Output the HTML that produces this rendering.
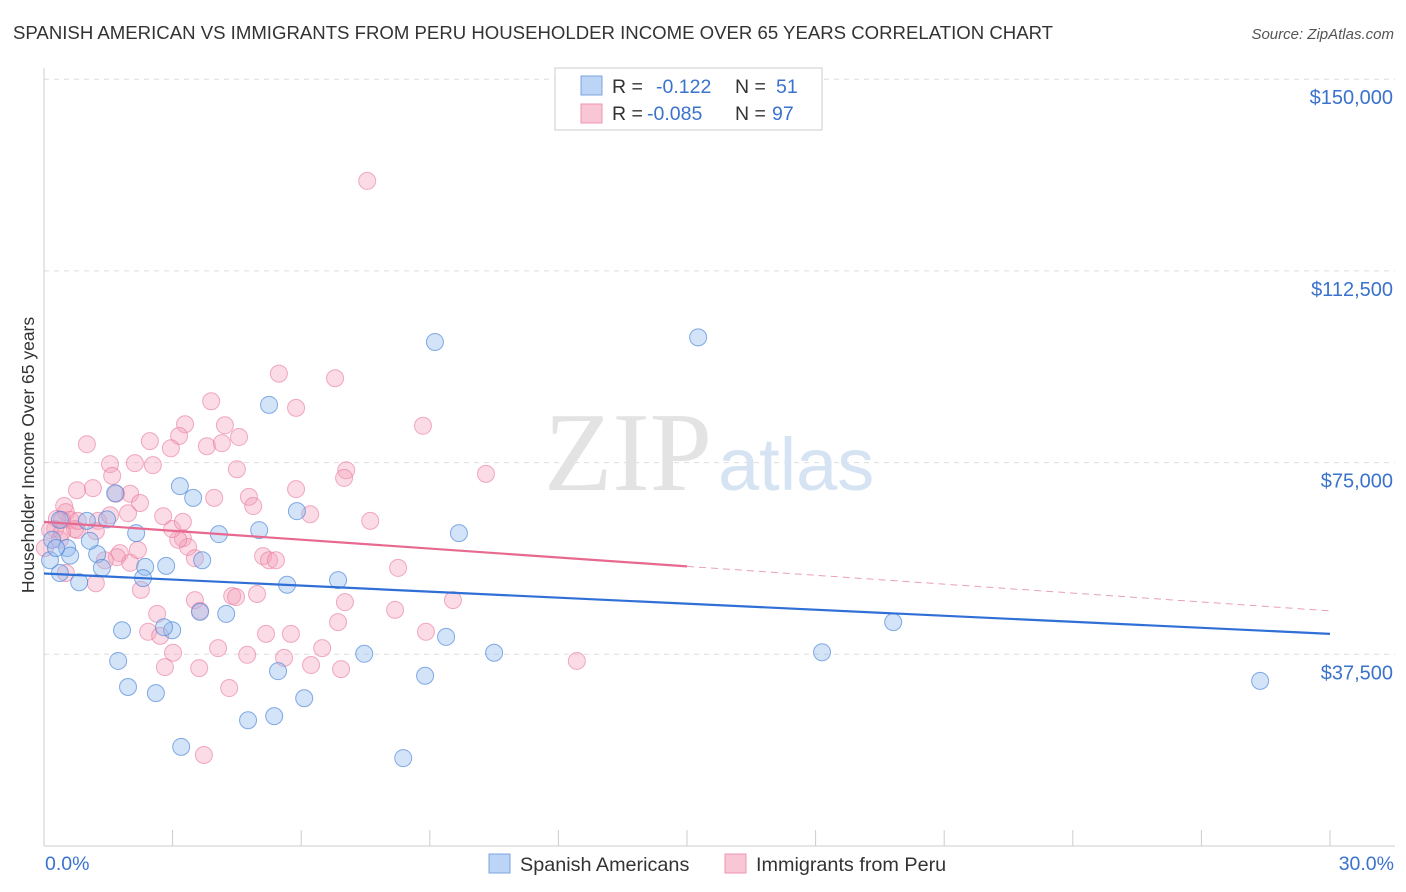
<!DOCTYPE html>
<html><head><meta charset="utf-8"><style>
body{margin:0;background:#fff;font-family:"Liberation Sans",sans-serif;}
svg{display:block}
</style></head><body>
<svg id="chart" width="1406" height="892">
<text x="13" y="39" font-size="18.6" fill="#333">SPANISH AMERICAN VS IMMIGRANTS FROM PERU HOUSEHOLDER INCOME OVER 65 YEARS CORRELATION CHART</text>
<text x="1394" y="39" font-size="15" fill="#555" font-style="italic" text-anchor="end">Source: ZipAtlas.com</text>
<g id="grid"></g>
<text x="712" y="490" font-size="112" fill="#e3e3e3" font-family="Liberation Serif,serif" text-anchor="end">ZIP</text>
<text x="718" y="490" font-size="74" fill="#d5e3f3">atlas</text>
<text transform="translate(34,455) rotate(-90)" font-size="17.5" fill="#333" text-anchor="middle">Householder Income Over 65 years</text>
<g id="pts"></g>
<g id="lines"></g>
<rect x="555" y="68" width="267" height="62" fill="#fff" stroke="#ccc"/>
<rect x="581" y="76" width="21" height="19" fill="#bcd4f5" stroke="#7aa5e0"/>
<rect x="581" y="104" width="21" height="19" fill="#f9c6d5" stroke="#ee94b0"/>
<text x="612" y="93" font-size="19.5" fill="#333">R = <tspan x="656" fill="#3a72cc">-0.122</tspan><tspan x="735">N = </tspan><tspan x="776" fill="#3a72cc">51</tspan></text>
<text x="612" y="120" font-size="19.5" fill="#333">R = <tspan x="647" fill="#3a72cc">-0.085</tspan><tspan x="735">N = </tspan><tspan x="772" fill="#3a72cc">97</tspan></text>
<rect x="489" y="854" width="21" height="19" fill="#bcd4f5" stroke="#7aa5e0"/>
<text x="520" y="871" font-size="19.8" fill="#333">Spanish Americans</text>
<rect x="725" y="854" width="21" height="19" fill="#f9c6d5" stroke="#ee94b0"/>
<text x="756" y="871" font-size="19.8" fill="#333">Immigrants from Peru</text>
</svg>
<script>
const yTicks=[37500,75000,112500,150000];
const yTickLabels=["$37,500","$75,000","$112,500","$150,000"];
const xTickLabels=["0.0%","30.0%"];
const blueX=[9.12,15.26,5.25,3.17,3.48,5.90,9.68,5.02,4.08,2.15,1.47,1.66,1.00,0.37,0.19,0.54,0.61,1.24,1.07,0.37,0.82,1.35,2.36,2.85,2.31,2.99,2.80,3.64,4.25,3.69,5.67,6.86,7.47,9.38,10.50,18.15,19.81,28.37,1.82,1.73,1.96,2.61,5.46,6.07,4.76,5.37,8.89,3.20,8.38,0.14,0.28];
const blueY=[98.6,99.5,86.3,70.4,68.1,65.5,61.2,61.8,61.0,61.2,63.9,69.0,63.6,63.8,59.9,58.3,56.8,57.1,59.7,53.4,51.6,54.4,54.6,54.8,52.4,42.2,42.8,45.8,45.4,55.9,51.1,52.0,37.6,40.9,37.8,37.9,43.8,32.3,42.2,36.2,31.1,29.9,34.2,28.9,24.6,25.4,33.3,19.4,17.2,55.9,58.3];
const pinkX=[7.54,5.48,6.79,5.88,8.84,3.90,3.29,4.22,3.15,2.47,1.00,4.55,3.80,4.15,2.96,10.31,7.05,7.00,4.50,2.54,2.12,1.54,1.59,1.14,0.77,0.47,0.51,2.01,2.24,1.68,1.96,1.26,2.78,3.24,3.36,3.52,4.78,4.88,5.88,6.21,3.97,7.61,3.13,2.99,1.77,1.70,1.42,1.21,0.61,0.30,0.26,0.14,0.37,0.77,2.26,2.64,2.43,2.71,3.52,3.64,4.39,4.48,4.97,5.11,5.25,5.41,5.18,5.76,6.49,6.86,7.02,8.19,8.26,8.91,9.54,12.43,3.01,2.82,3.62,4.06,4.74,5.60,6.23,6.93,4.32,3.73,2.01,2.19,1.21,0.72,0.42,0.02,0.51,0.79,0.42,3.24,1.54];
const pinkY=[130.1,92.4,91.5,85.7,82.2,87.0,82.5,82.3,80.2,79.2,78.6,80.0,78.2,78.8,77.8,72.8,73.5,72.0,73.7,74.5,74.9,74.7,72.4,70.0,69.6,66.5,65.3,68.9,67.1,68.9,65.1,63.6,64.5,60.2,58.5,56.3,68.3,66.5,69.8,64.9,68.1,63.6,59.9,62.0,57.3,56.5,55.9,61.6,63.8,64.0,62.0,61.8,59.9,61.8,50.1,45.4,41.9,41.1,48.1,46.0,48.9,48.7,49.3,56.7,55.9,55.9,41.5,41.5,38.7,43.8,47.7,46.2,54.4,41.9,48.1,36.2,37.8,35.0,34.8,38.7,37.4,36.8,35.4,34.6,30.9,17.8,55.4,57.9,51.4,62.0,61.4,58.3,53.4,63.6,63.8,63.4,64.7];
const blueTrend=[53.3,41.5];
const pinkTrend=[63.4,46.0];
const pinkSolidEnd=15;
const NS="http://www.w3.org/2000/svg";
const X0=44,X1=1330,Y0=846,PXK=191.7/37.5;
function sx(v){return X0+(X1-X0)*v/30;}
function sy(k){return Y0-k*PXK;}
function mk(tag,attrs,parent){const e=document.createElementNS(NS,tag);for(const k in attrs)e.setAttribute(k,attrs[k]);parent.appendChild(e);return e;}
const grid=document.getElementById('grid');
yTicks.forEach((t,i)=>{
 const y=sy(t/1000);
 const l=mk('line',{x1:X0,x2:1395,y1:y,y2:y,stroke:'#ddd','stroke-dasharray':'5,5'},grid);
 
 
 const tx=mk('text',{x:1393,y:y+25,'font-size':20,fill:'#3a72cc','text-anchor':'end'},grid);
 tx.textContent=yTickLabels[i];
 
 
});
const ax=mk('line',{x1:X0,x2:X0,y1:68,y2:846,stroke:'#ccc'},grid);


const bx=mk('line',{x1:X0,x2:1395,y1:846,y2:846,stroke:'#ccc'},grid);


for(let i=0;i<=10;i++){
 const x=sx(i*3);
 const t=mk('line',{x1:x,x2:x,y1:830,y2:846,stroke:'#ccc'},grid);
 
 
}
[[0,'start',45],[30,'end',1394]].forEach((d,i)=>{
 const t=mk('text',{x:d[2],y:870,'font-size':19.5,fill:'#3a72cc','text-anchor':d[1]},grid);
 t.textContent=xTickLabels[i];
 
 
});
const pts=document.getElementById('pts');
pinkX.forEach((v,i)=>{
 const c=mk('circle',{cx:sx(v),cy:sy(pinkY[i]),r:8.5,fill:'rgba(244,160,186,0.38)',stroke:'rgba(232,120,156,0.6)','stroke-width':1},pts);
 
 
});
blueX.forEach((v,i)=>{
 const c=mk('circle',{cx:sx(v),cy:sy(blueY[i]),r:8.5,fill:'rgba(150,188,238,0.42)',stroke:'rgba(70,130,215,0.65)','stroke-width':1},pts);
 
 
});
const lines=document.getElementById('lines');
const bl=mk('line',{x1:sx(0),y1:sy(blueTrend[0]),x2:sx(30),y2:sy(blueTrend[1]),stroke:'#2f6fd6','stroke-width':2.2},lines);


const pm=pinkTrend[0]+(pinkTrend[1]-pinkTrend[0])*pinkSolidEnd/30;
const pl=mk('line',{x1:sx(0),y1:sy(pinkTrend[0]),x2:sx(pinkSolidEnd),y2:sy(pm),stroke:'#e8698f','stroke-width':2.2},lines);


const pd=mk('line',{x1:sx(pinkSolidEnd),y1:sy(pm),x2:sx(30),y2:sy(pinkTrend[1]),stroke:'#e8a0b6','stroke-width':1,'stroke-dasharray':'7,5'},lines);


</script>
</body></html>
